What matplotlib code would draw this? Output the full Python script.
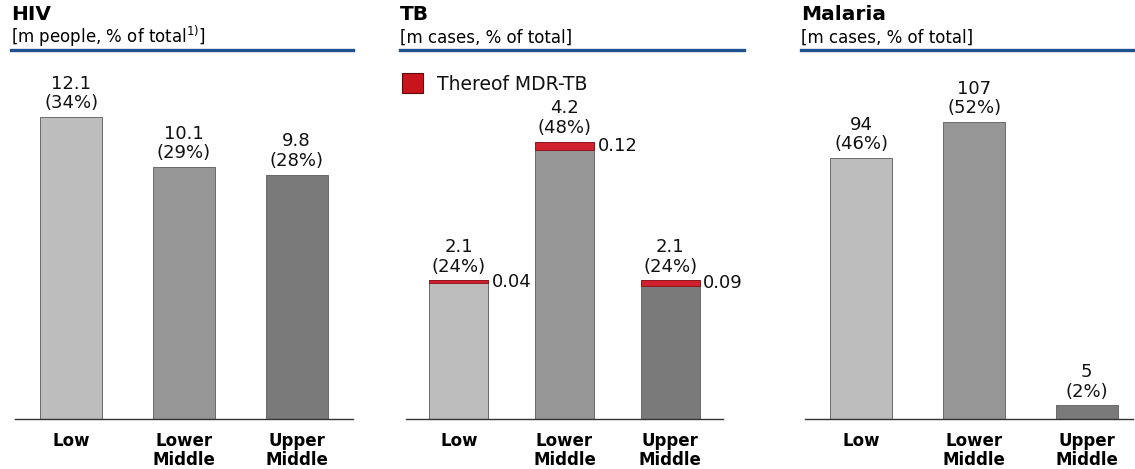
import numpy as np
import matplotlib
matplotlib.use("Agg")
import matplotlib.pyplot as plt
from matplotlib.lines import Line2D
from matplotlib.patches import Rectangle

# --- data -------------------------------------------------------------------
categories = ["Low", "Lower\nMiddle", "Upper\nMiddle"]
hiv_vals   = [12.1, 10.1, 9.8]
hiv_pct    = ["34%", "29%", "28%"]
tb_vals    = [2.1, 4.2, 2.1]
tb_pct     = ["24%", "48%", "24%"]
tb_mdr     = [0.04, 0.12, 0.09]
mal_vals   = [94, 107, 5]
mal_pct    = ["46%", "52%", "2%"]

# --- style ------------------------------------------------------------------
W, H = 1135, 469
GRAYS = ["#bdbdbd", "#969696", "#7a7a7a"]
EDGE  = "#6a6a6a"
RED   = "#d0202e"
BLUE  = "#1f5190"
plt.rcParams['font.family'] = ['DejaVu Sans']

fig = plt.figure(figsize=(W/100, H/100), dpi=100)

def px_axes(x0, x1, ytop, ybot):
    return fig.add_axes([x0/W, 1-ybot/H, (x1-x0)/W, (ybot-ytop)/H])

def header(x0, x1, title, sub):
    fig.text(x0/W, 1-15/H, title, fontsize=14.5, fontweight="bold",
             ha="left", va="center")
    fig.text(x0/W, 1-43/H, sub, fontsize=12, ha="left", va="baseline")
    fig.add_artist(Line2D([x0/W, x1/W], [1-50.5/H]*2, color=BLUE, lw=2.4))

def panel(ax, vals, pct, ymax, xmax, width):
    x = np.arange(len(vals))
    ax.bar(x, vals, width=width, color=GRAYS, edgecolor=EDGE, lw=0.7, zorder=2)
    for xi, v, p in zip(x, vals, pct):
        lab = f"{v:g}\n({p})"
        ax.annotate(lab, (xi, v), xytext=(0, 3.5), textcoords="offset points",
                    ha="center", va="bottom", fontsize=13, linespacing=1.1,
                    color="#111111")
    ax.set_xlim(-0.5, xmax); ax.set_ylim(0, ymax)
    for s in ["top", "right", "left"]:
        ax.spines[s].set_visible(False)
    ax.spines["bottom"].set_color("#333333"); ax.spines["bottom"].set_linewidth(1.0)
    ax.set_yticks([])
    ax.set_xticks(x)
    ax.set_xticklabels(categories, fontsize=12, fontweight="bold",
                       linespacing=1.12, va="top")
    ax.tick_params(axis="x", length=0, pad=9)
    ax.patch.set_alpha(0)

YTOP, YBOT = 60, 419.3

# HIV
header(11, 353, "HIV", r"[m people, % of total$^{1)}$]")
ax1 = px_axes(15, 353, YTOP, YBOT)
panel(ax1, hiv_vals, hiv_pct, (YBOT-YTOP)/24.96, 2.5, 0.55)

# TB
header(400, 744, "TB", "[m cases, % of total]")
ax2 = px_axes(406, 723, YTOP, YBOT)
panel(ax2, tb_vals, tb_pct, (YBOT-YTOP)/66.1, 2.5, 0.56)
xt = np.arange(len(tb_vals))
bottoms = [v - m for v, m in zip(tb_vals, tb_mdr)]
ax2.bar(xt, tb_mdr, bottom=bottoms, width=0.56, color=RED, edgecolor="#8a1018",
        lw=0.6, zorder=3)
for xi, v, m in zip(xt, tb_vals, tb_mdr):
    ax2.annotate(f"{m:.2f}", (xi + 0.28, v - m/2), xytext=(2.5, 0),
                 textcoords="offset points", ha="left", va="center",
                 fontsize=13, color="#111111")
# legend key
fig.add_artist(Rectangle((402/W, 1-93/H), 21/W, 20/H, transform=fig.transFigure,
                         facecolor="#c8141c", edgecolor="#5a0a0a", lw=0.8))
fig.text(437/W, 1-84/H, "Thereof MDR-TB", fontsize=13.5, ha="left", va="center",
         color="#111111")

# Malaria
header(801, 1135, "Malaria", "[m cases, % of total]")
ax3 = px_axes(805, 1133, YTOP, YBOT)
panel(ax3, mal_vals, mal_pct, (YBOT-YTOP)/2.778, 2.41, 0.55)

fig.savefig("out.png", dpi=100)
